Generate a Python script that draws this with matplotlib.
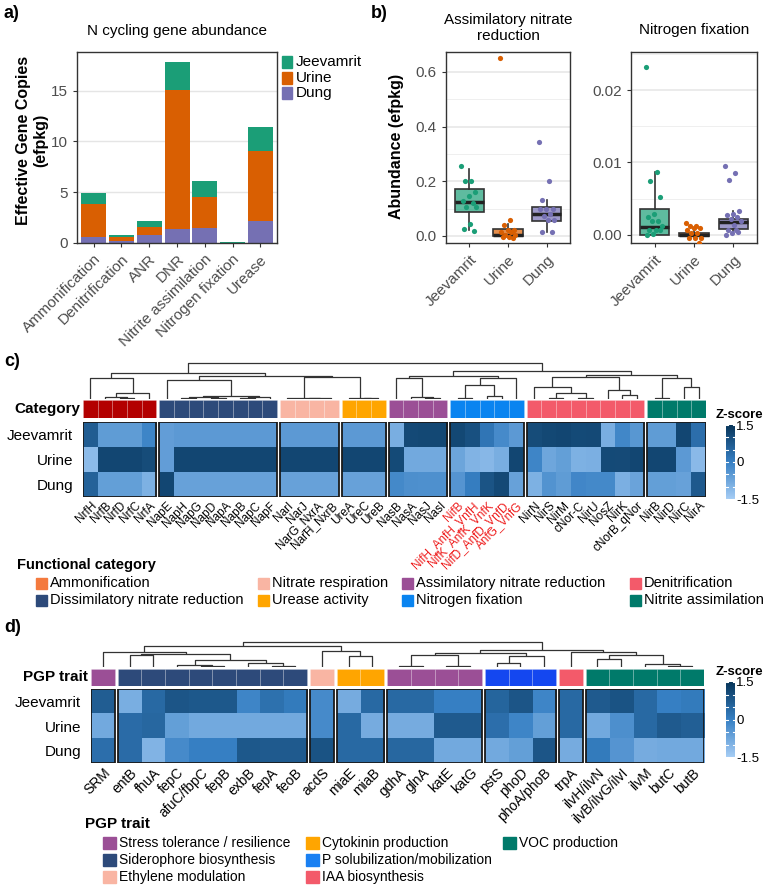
import matplotlib
matplotlib.use("Agg")
import matplotlib.pyplot as plt
import numpy as np
from matplotlib.patches import Rectangle
from matplotlib.colors import LinearSegmentedColormap, Normalize

plt.rcParams['font.family'] = ['Liberation Sans', 'DejaVu Sans']

# ---------------- panel a data ----------------
processes = ["Ammonification", "Denitrification", "ANR", "DNR",
             "Nitrite assimilation", "Nitrogen fixation", "Urease"]
dung_a = [0.6, 0.15, 0.75, 1.4, 1.5, 0.02, 2.15]
urine_a = [3.25, 0.4, 0.8, 13.65, 3.0, 0.02, 6.95]
jeev_a = [1.05, 0.2, 0.65, 2.8, 1.6, 0.03, 2.35]

# ---------------- panel b data ----------------
groups_b = ["Jeevamrit", "Urine", "Dung"]
anr_jeev = [0.255, 0.202, 0.202, 0.16, 0.146, 0.126, 0.119, 0.105, 0.105, 0.043, 0.027, 0.017]
anr_urine = [0.65, 0.058, 0.039, 0.022, 0.022, 0.013, 0.013, 0.005, 0.005, -0.004, -0.005, -0.007]
anr_dung = [0.344, 0.201, 0.13, 0.097, 0.097, 0.099, 0.081, 0.071, 0.059, 0.059, 0.013, 0.013]
nf_jeev = [0.0232, 0.0086, 0.0074, 0.0052, 0.0029, 0.0024, 0.0019, 0.0019, 0.0012,
           0.0006, 0.0006, 0.0006, 0.0001, 0.0]
nf_urine = [0.0016, 0.0012, 0.0012, 0.0009, 0.0009, 0.0006, 0.0003, 0.0002,
            -0.0005, -0.0005, -0.0005, -0.0011]
nf_dung = [0.0095, 0.0085, 0.0075, 0.0033, 0.0029, 0.0027, 0.0025, 0.0022, 0.0019,
           0.0014, 0.0006, 0.0004, 0.0002, 0.0, 0.0006]
# box stats: whislo, q1, med, q3, whishi
anr_box = [[0.022, 0.088, 0.125, 0.173, 0.245],
           [-0.005, 0.0, 0.005, 0.027, 0.045],
           [0.013, 0.053, 0.08, 0.104, 0.13]]
nf_box = [[0.0, 0.0, 0.0011, 0.0036, 0.0086],
          [-0.0005, -0.0002, 0.0, 0.0002, 0.0006],
          [0.0002, 0.0008, 0.0017, 0.0022, 0.0033]]

# ---------------- panel c data ----------------
rows = ["Jeevamrit", "Urine", "Dung"]
c_genes = ["NrfH", "NrfB", "NrfD", "NrfC", "NrfA",
           "NapE", "NapH", "NapG", "NapD", "NapA", "NapB", "NapC", "NapF",
           "NarI", "NarJ", "NarG_NxrA", "NarH_NxrB",
           "UreA", "UreC", "UreB",
           "NasB", "NasA", "NasJ", "NasI",
           "NifB", "NifH_AnfH_VnfH", "NifK_AnfK_VnfK", "NifD_AnfD_VnfD", "AnfG_VnfG",
           "NirN", "NirS", "NirM", "cNor-C", "NirU", "NosZ", "NirK", "cNorB_qNor",
           "NirB", "NirD", "NirC", "NirA"]
c_groups = ["Ammonification", "Dissimilatory nitrate reduction", "Nitrate respiration",
            "Urease activity", "Assimilatory nitrate reduction", "Nitrogen fixation",
            "Denitrification", "Nitrite assimilation"]
c_group_sizes = [5, 8, 4, 3, 4, 5, 8, 4]
c_red = ["NifB", "NifH_AnfH_VnfH", "NifK_AnfK_VnfK", "NifD_AnfD_VnfD", "AnfG_VnfG"]
c_jeev = [0.7, -0.55, -0.55, -0.55, -0.1,
          -0.58, -0.5, -0.5, -0.5, -0.5, -0.5, -0.5, -0.5,
          -0.5, -0.5, -0.5, -0.5,
          -0.5, -0.5, -0.5,
          -0.9, 1.1, 1.12, 1.12,
          1.12, 0.95, 0.2, -0.2, -0.5,
          1.05, 1.12, 1.15, 1.08, 1.1, -0.9, -0.15, -0.45,
          -0.55, -0.55, 1.15, 0.35]
c_urine = [-1.15, 1.15, 1.15, 1.15, 1.05,
           -0.58, 1.15, 1.15, 1.15, 1.15, 1.15, 1.15, 1.15,
           1.15, 1.15, 1.15, 1.15,
           1.15, 1.15, 1.15,
           1.08, -0.8, -0.8, -0.8,
           -0.72, -1.0, -1.08, -0.9, 1.15,
           -0.1, -0.75, -0.6, -0.95, -0.92, 1.08, 1.07, 1.15,
           1.15, 1.15, -0.5, -1.12]
c_dung = [0.6, -0.6, -0.6, -0.6, -0.95,
          1.15, -0.65, -0.65, -0.65, -0.65, -0.65, -0.65, -0.65,
          -0.65, -0.65, -0.65, -0.65,
          -0.65, -0.65, -0.65,
          -0.18, -0.3, -0.32, -0.32,
          -0.4, 0.05, 0.88, 1.1, -0.65,
          -0.95, -0.37, -0.55, -0.13, -0.18, -0.18, -0.92, -0.7,
          -0.6, -0.6, -0.65, 0.77]
# dendrogram: (left, right, height); leaves are column indices
c_tree = (
    ((0, ((1, (2, 3, 4), 7), 4, 17), 64),
     ((5, (((6, 7, 4), (8, 9, 3), 6), ((10, 11, 3), 12, 5), 8), 57),
      ((13, ((14, 15, 1), 16, 2), 3), (17, (18, 19, 2), 4), 66), 69), 77),
    (((20, (21, (22, 23, 3), 6), 62), (((24, 25, 4), (26, 27, 10), 42), 28, 62), 69),
     (((29, ((30, 31, 4), (32, 33, 4), 19), 37), (34, (35, 36, 12), 27), 65),
      ((37, 38, 2), (39, 40, 37), 62), 72), 84),
    109)

# ---------------- panel d data ----------------
d_genes = ["SRM", "entB", "fhuA", "fepC", "afuC/fbpC", "fepB", "exbB", "fepA", "feoB",
           "acdS", "miaE", "miaB", "gdhA", "glnA", "katE", "katG", "pstS", "phoD",
           "phoA/phoB", "trpA", "ilvH/ilvN", "ilvB/ilvG/ilvI", "ilvM", "butC", "butB"]
d_groups = ["Stress tolerance / resilience", "Siderophore biosynthesis", "Ethylene modulation",
            "Cytokinin production", "Stress tolerance / resilience",
            "P solubilization/mobilization", "IAA biosynthesis", "VOC production"]
d_group_sizes = [1, 8, 1, 2, 4, 3, 1, 5]
d_jeev = [0.7, -0.9, 0.45, 0.85, 0.8, 0.8, -0.1, 0.3, 0.1, -0.2, -0.85, 0.45,
          0.45, 0.45, 0.0, 0.0, 0.55, 0.85, -0.1, 0.45, 0.75, 0.9, 0.45, 0.0, 0.1]
d_urine = [-0.8, 0.4, 0.5, -0.6, -0.8, -0.8, -0.8, -0.8, -0.8, -0.2, 0.45, -0.85,
           -0.85, -0.85, 0.75, 0.75, 0.35, -0.1, -0.6, 0.45, -0.8, -0.3, 0.45, 0.75, 0.65]
d_dung = [0.35, 0.4, -1.0, -0.2, 0.0, 0.0, 0.8, 0.75, 0.75, 0.9, 0.45, 0.45,
          0.5, 0.5, -0.8, -0.8, -0.8, -0.6, 0.85, -0.85, 0.1, -0.4, -0.85, -0.8, -0.8]
d_tree = (
    ((0, ((1, 2, 37), ((3, (4, 5, 3), 7), (6, (7, 8, 3), 12), 22), 40), 45),
     (9, (10, 11, 33), 48), 62),
    ((((12, 13, 3), (14, 15, 2), 37), ((16, 17, 12), 18, 32), 42),
     (19, ((20, 21, 25), (22, (23, 24, 3), 10), 35), 45), 52),
    75)

# ---------------- styles ----------------
W, H = 767, 891
col_j, col_u, col_d = "#1B9E77", "#D95F02", "#7570B3"
c_anno_cols = {"Ammonification": "#B30000", "Dissimilatory nitrate reduction": "#2D4A7A",
               "Nitrate respiration": "#F9B5A3", "Urease activity": "#FFA500",
               "Assimilatory nitrate reduction": "#9B4F96", "Nitrogen fixation": "#0A84F0",
               "Denitrification": "#F35A6A", "Nitrite assimilation": "#007A6A"}
c_leg_cols = dict(c_anno_cols, Ammonification="#F47A3E")
d_anno_cols = {"Stress tolerance / resilience": "#9B4F96", "Siderophore biosynthesis": "#2D4A7A",
               "Ethylene modulation": "#F9B5A3", "Cytokinin production": "#FFA500",
               "P solubilization/mobilization": "#1447F0", "IAA biosynthesis": "#F35A6A",
               "VOC production": "#007A6A"}
d_leg_cols = dict(d_anno_cols)
d_leg_cols["P solubilization/mobilization"] = "#1A80F2"

cmap = LinearSegmentedColormap.from_list("z", ["#A6CDF5", "#3780C4", "#08365A"])
norm = Normalize(-1.5, 1.5)
tick_grey = "#4D4D4D"

fig = plt.figure(figsize=(W / 100, H / 100), dpi=100)


def px_axes(x0, y0, x1, y1):
    return fig.add_axes([x0 / W, 1 - y1 / H, (x1 - x0) / W, (y1 - y0) / H])


def frame(ax):
    for s in ax.spines.values():
        s.set_color("#333333")
        s.set_linewidth(1.0)
    ax.tick_params(colors="#333333", labelcolor=tick_grey, length=3, labelsize=11)


# ---------------- panel a ----------------
ax = px_axes(77, 52, 277, 243)
xa = np.arange(len(processes))
ax.bar(xa, dung_a, width=0.9, color=col_d, zorder=2)
ax.bar(xa, urine_a, width=0.9, bottom=dung_a, color=col_u, zorder=2)
ax.bar(xa, jeev_a, width=0.9, bottom=np.add(dung_a, urine_a), color=col_j, zorder=2)
ax.set_xlim(-0.6, 6.6)
ax.set_ylim(0, 18.8)
ax.set_yticks([0, 5, 10, 15])
ax.yaxis.grid(True, color="#E5E5E5", lw=1.0, zorder=0)
ax.set_xticks(xa)
ax.set_xticklabels(processes, rotation=45, ha="right", va="top", rotation_mode="anchor", fontsize=10)
frame(ax)

# ---------------- panel b ----------------
def box_panel(box, pts, lims, ticks, fmt, minor):
    ax = px_axes(*box)
    stats = []
    for s in pts[1]:
        stats.append(dict(whislo=s[0], q1=s[1], med=s[2], q3=s[3], whishi=s[4]))
    bp = ax.bxp(stats, positions=[1, 2, 3], widths=0.75, patch_artist=True, showfliers=False,
                showcaps=False,
                medianprops=dict(color="#222222", lw=2.5),
                whiskerprops=dict(color="#333333", lw=1.2),
                boxprops=dict(edgecolor="#333333", lw=1.2))
    for patch, c in zip(bp["boxes"], [col_j, col_u, col_d]):
        patch.set_facecolor(matplotlib.colors.to_rgba(c, 0.7))
        patch.set_zorder(2)
    for i, (vals, c) in enumerate(zip(pts[0], [col_j, col_u, col_d])):
        n = len(vals)
        offs = ((np.arange(n) * 0.618034) % 1 - 0.5) * 0.42
        ax.scatter(i + 1 + offs, vals, s=14, color=c, zorder=3, linewidths=0)
    ax.set_xlim(0.4, 3.6)
    ax.set_ylim(*lims)
    ax.set_yticks(ticks)
    ax.set_yticklabels([fmt.format(t) for t in ticks])
    ax.set_yticks(minor, minor=True)
    ax.yaxis.grid(True, which="major", color="#E5E5E5", lw=1.1, zorder=0)
    ax.yaxis.grid(True, which="minor", color="#EFEFEF", lw=0.7, zorder=0)
    ax.tick_params(axis="y", which="minor", length=0)
    ax.set_axisbelow(True)
    ax.set_xticks([1, 2, 3])
    ax.set_xticklabels(groups_b, rotation=45, ha="right", va="top", rotation_mode="anchor", fontsize=10.5)
    frame(ax)
    return ax


box_panel((446, 52, 570, 243), ([anr_jeev, anr_urine, anr_dung], anr_box),
          (-0.026, 0.673), [0.0, 0.2, 0.4, 0.6], "{:.1f}", [0.1, 0.3, 0.5])
box_panel((631, 52, 757, 243), ([nf_jeev, nf_urine, nf_dung], nf_box),
          (-0.00115, 0.02526), [0.0, 0.01, 0.02], "{:.2f}", [0.005, 0.015, 0.025])


# ---------------- heatmaps ----------------
def draw_tree(ax, node, xs):
    if isinstance(node, int):
        return xs[node], 0.0
    left, right, h = node
    xl, hl = draw_tree(ax, left, xs)
    xr, hr = draw_tree(ax, right, xs)
    ax.plot([xl, xl, xr, xr], [hl, h, h, hr], color="#333333", lw=0.9, solid_capstyle="butt")
    return (xl + xr) / 2, h


def heat_panel(x0, x1, yd, ya, yh, gap, dtop, genes, sizes, groups, cols, z, tree, lsize, lpad, red=()):
    starts, centers, s = [], [], 0
    for n in sizes:
        starts.append(s)
        centers += [s + i + 0.5 for i in range(n)]
        s += n + gap
    total = s - gap
    ax_d = px_axes(x0, yd[0], x1, yd[1])
    ax_a = px_axes(x0, ya[0], x1, ya[1])
    ax_h = px_axes(x0, yh[0], x1, yh[1])
    k = 0
    for st, n, g in zip(starts, sizes, groups):
        ax_h.imshow(z[:, k:k + n], extent=(st, st + n, 3, 0), cmap=cmap, norm=norm,
                    aspect="auto", interpolation="nearest")
        ax_h.add_patch(Rectangle((st, 0), n, 3, fill=False, ec="#1a1a1a", lw=1.3, zorder=3))
        for i in range(n):
            ax_a.add_patch(Rectangle((st + i, 0), 1, 1, fc=cols[g], ec=(1, 1, 1, 0.18), lw=0.6))
        k += n
    for a in (ax_d, ax_a, ax_h):
        a.set_xlim(0, total)
    ax_a.set_ylim(0, 1)
    ax_a.axis("off")
    ax_h.set_ylim(3, 0)
    draw_tree(ax_d, tree, centers)
    ax_d.set_ylim(0, dtop)
    ax_d.axis("off")
    for sp in ax_h.spines.values():
        sp.set_visible(False)
    ax_h.set_yticks([0.5, 1.5, 2.5])
    ax_h.set_yticklabels(rows, fontsize=11)
    ax_h.set_xticks(centers)
    ax_h.set_xticklabels(genes, rotation=45, ha="right", va="top", rotation_mode="anchor", fontsize=lsize)
    ax_h.tick_params(length=0, pad=lpad)
    ax_h.tick_params(axis="y", pad=7)
    for t in ax_h.get_xticklabels():
        if t.get_text() in red:
            t.set_color("#EE1C1C")


def zbar(x0, y0, x1, y1):
    cax = px_axes(x0, y0, x1, y1)
    grad = np.linspace(-1.5, 1.5, 256).reshape(-1, 1)
    cax.imshow(grad, extent=(0, 1, -1.5, 1.5), origin="lower", cmap=cmap, norm=norm, aspect="auto")
    for v in np.linspace(-1.5, 1.5, 7):
        cax.plot([0, 0.22], [v, v], color="white", lw=0.8)
        cax.plot([0.78, 1], [v, v], color="white", lw=0.8)
    cax.set_xlim(0, 1)
    cax.set_ylim(-1.5, 1.5)
    cax.set_xticks([])
    cax.yaxis.tick_right()
    cax.set_yticks([-1.5, 0, 1.5])
    cax.set_yticklabels(["-1.5", "0", "1.5"], fontsize=9.5)
    cax.tick_params(axis="y", length=0, pad=1)
    for sp in cax.spines.values():
        sp.set_visible(False)


zc = np.array([c_jeev, c_urine, c_dung])
heat_panel(83, 706, (360, 399), (400, 418), (422, 497), 0.2, 117, c_genes, c_group_sizes,
           c_groups, c_anno_cols, zc, c_tree, 8.5, 2, red=c_red)
zbar(726, 425, 735, 499)

zd = np.array([d_jeev, d_urine, d_dung])
heat_panel(91, 704, (640, 667), (669, 686), (689, 763), 0.127, 81, d_genes, d_group_sizes,
           d_groups, d_anno_cols, zd, d_tree, 10, 2)
zbar(726, 682, 735, 757)

# ---------------- overlay texts / legends ----------------
ov = fig.add_axes([0, 0, 1, 1])
ov.set_xlim(0, W)
ov.set_ylim(H, 0)
ov.axis("off")

for lab, x, y in [("a)", 4, 14), ("b)", 371, 14), ("c)", 4, 362), ("d)", 4, 627)]:
    ov.text(x, y, lab, fontsize=13, fontweight="bold", va="center", ha="left")

ov.text(177, 31, "N cycling gene abundance", fontsize=11, ha="center", va="center")
ov.text(32, 140, "Effective Gene Copies\n(efpkg)", fontsize=11.5, fontweight="bold",
        rotation=90, ha="center", va="center", multialignment="center", linespacing=1.2)
for i, (lab, c) in enumerate(zip(["Jeevamrit", "Urine", "Dung"], [col_j, col_u, col_d])):
    y = 62 + i * 15.5
    ov.add_patch(Rectangle((282, y - 6), 10, 12, color=c))
    ov.text(296, y, lab, fontsize=11, va="center", ha="left")

ov.text(508, 28, "Assimilatory nitrate\nreduction", fontsize=11, ha="center", va="center",
        linespacing=1.1)
ov.text(694, 30, "Nitrogen fixation", fontsize=11, ha="center", va="center")
ov.text(397, 146, "Abundance (efpkg)", fontsize=11.5, fontweight="bold", rotation=90,
        ha="center", va="center")

ov.text(80, 409, "Category", fontsize=11, fontweight="bold", ha="right", va="center")
ov.text(88, 677, "PGP trait", fontsize=11, fontweight="bold", ha="right", va="center")
ov.text(716, 415, "Z-score", fontsize=9.5, fontweight="bold", ha="left", va="center")
ov.text(716, 672, "Z-score", fontsize=9.5, fontweight="bold", ha="left", va="center")

# legend c
ov.text(17, 565, "Functional category", fontsize=10.5, fontweight="bold", ha="left", va="center")
c_leg_layout = [["Ammonification", "Dissimilatory nitrate reduction"],
                ["Nitrate respiration", "Urease activity"],
                ["Assimilatory nitrate reduction", "Nitrogen fixation"],
                ["Denitrification", "Nitrite assimilation"]]
for xs, col in zip([36, 258, 402, 630], c_leg_layout):
    for j, name in enumerate(col):
        y = 583 + j * 17
        ov.add_patch(Rectangle((xs, y - 5.5), 11, 11, color=c_leg_cols[name]))
        ov.text(xs + 14, y, name, fontsize=10.5, ha="left", va="center")

# legend d
ov.text(85, 824, "PGP trait", fontsize=11, fontweight="bold", ha="left", va="center")
d_leg_layout = [["Stress tolerance / resilience", "Siderophore biosynthesis", "Ethylene modulation"],
                ["Cytokinin production", "P solubilization/mobilization", "IAA biosynthesis"],
                ["VOC production"]]
for xs, col in zip([103, 306, 503], d_leg_layout):
    for j, name in enumerate(col):
        y = 843 + j * 17
        ov.add_patch(Rectangle((xs, y - 6), 13, 12, color=d_leg_cols[name]))
        ov.text(xs + 16, y, name, fontsize=10, ha="left", va="center")

fig.savefig("out.png", dpi=100)
